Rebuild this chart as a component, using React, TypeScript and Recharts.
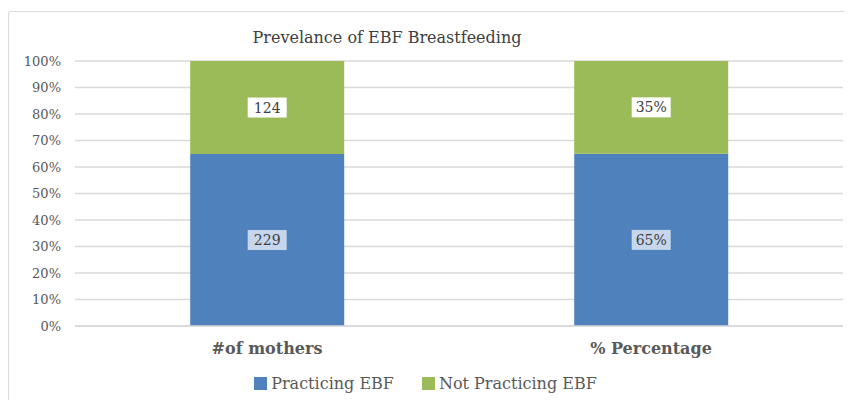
import React from 'react';
import { BarChart, Bar, XAxis, YAxis, CartesianGrid, Legend, LabelList } from 'recharts';

const categories = ['#of mothers', '% Percentage'];
const practicing = [229, 65];
const notPracticing = [124, 35];
const suffixes = ['', '%'];
const yTicks = [0, 0.1, 0.2, 0.3, 0.4, 0.5, 0.6, 0.7, 0.8, 0.9, 1];

const data = categories.map((name, i) => ({
  name,
  practicing: practicing[i],
  notPracticing: notPracticing[i],
}));

const FONT = '"DejaVu Serif", serif';
const BLUE = '#4f81bd';
const GREEN = '#9bbb59';

const makeLabel = (boxFill: string) => (props: any) => {
  const { x, y, width, height, value, index } = props;
  const text = `${value}${suffixes[index] ?? ''}`;
  const cx = x + width / 2;
  const cy = y + height / 2;
  const w = text.length * 9 + 12;
  const h = 20;
  return (
    <g>
      <rect x={cx - w / 2} y={cy - h / 2} width={w} height={h} fill={boxFill} />
      <text x={cx} y={cy} textAnchor="middle" dominantBaseline="central" fontFamily={FONT} fontSize={14} fill="#404040">
        {text}
      </text>
    </g>
  );
};

const renderLegend = () => (
  <div style={{ display: 'flex', justifyContent: 'center', fontFamily: FONT, fontSize: 16, color: '#595959', paddingRight: 9 }}>
    {[{ c: BLUE, t: 'Practicing EBF' }, { c: GREEN, t: 'Not Practicing EBF' }].map((it, i) => (
      <span key={i} style={{ display: 'inline-flex', alignItems: 'center', marginRight: i === 0 ? 28 : 0 }}>
        <span style={{ display: 'inline-block', width: 13, height: 13, background: it.c, marginRight: 4 }} />
        {it.t}
      </span>
    ))}
  </div>
);

export default function App() {
  return (
    <div style={{ position: 'relative', width: 844, height: 392 }}>
      <div style={{ position: 'absolute', left: 0, top: 3, width: 900, height: 450, border: '1px solid #d9d9d9', borderRadius: 2, boxSizing: 'border-box' }} />
      <BarChart
        width={844}
        height={392}
        data={data}
        stackOffset="expand"
        barCategoryGap="30%"
        margin={{ top: 53, right: 9, left: 0, bottom: 0 }}
      >
        <text x={379} y={35} textAnchor="middle" fontFamily={FONT} fontSize={16} fill="#404040">
          Prevelance of EBF Breastfeeding
        </text>
        <CartesianGrid vertical={false} stroke="#d9d9d9" strokeWidth={1.5} />
        <XAxis
          dataKey="name"
          height={74}
          tickSize={0}
          tickMargin={17}
          axisLine={{ stroke: '#d9d9d9', strokeWidth: 1.5 }}
          tick={{ fontFamily: FONT, fontSize: 16, fontWeight: 'bold', fill: '#595959' }}
        />
        <YAxis
          width={67}
          ticks={yTicks}
          domain={[0, 1]}
          tickFormatter={(v: number) => `${Math.round(v * 100)}%`}
          tickSize={0}
          tickMargin={14}
          axisLine={false}
          tick={{ fontFamily: FONT, fontSize: 13, fill: '#595959' }}
        />
        <Legend verticalAlign="middle" layout="horizontal" content={renderLegend} wrapperStyle={{ top: 366, left: 0, width: 844 }} />
        <Bar dataKey="practicing" stackId="a" fill={BLUE} isAnimationActive={false} name="Practicing EBF">
          <LabelList dataKey="practicing" content={makeLabel('#c6d6ec')} />
        </Bar>
        <Bar dataKey="notPracticing" stackId="a" fill={GREEN} isAnimationActive={false} name="Not Practicing EBF">
          <LabelList dataKey="notPracticing" content={makeLabel('#ffffff')} />
        </Bar>
      </BarChart>
    </div>
  );
}
